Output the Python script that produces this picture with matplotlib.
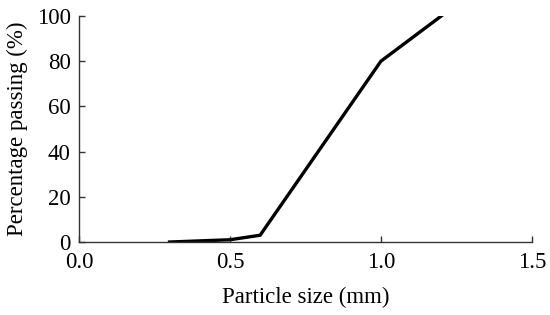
import matplotlib

matplotlib.use("Agg")
import matplotlib.pyplot as plt

plt.rcParams["font.family"] = ["Liberation Serif", "DejaVu Serif"]

# ── 数据 ──
particle_size = [0.3, 0.5, 0.6, 1.0, 1.2]
passing = [0, 1, 3, 80, 100]
x_ticks = [0.0, 0.5, 1.0, 1.5]
y_ticks = [0, 20, 40, 60, 80, 100]

fig = plt.figure(figsize=(5.5, 3.15), dpi=100)
ax = fig.add_axes([0.1436, 0.2317, 0.8234, 0.7175])

ax.plot(particle_size, passing, color="black", linewidth=2.4, solid_joinstyle="miter")

ax.set_xlim(0, 1.5)
ax.set_ylim(0, 100)
ax.set_xticks(x_ticks)
ax.set_xticklabels([f"{t:.1f}" for t in x_ticks])
ax.set_yticks(y_ticks)
ax.spines["top"].set_visible(False)
ax.spines["right"].set_visible(False)
for s in ("left", "bottom"):
    ax.spines[s].set_linewidth(1.0)
    ax.spines[s].set_color("#333333")
ax.tick_params(direction="in", length=4, width=1, labelsize=16.5, colors="#333333", labelcolor="black")
ax.tick_params(axis="x", pad=7)
ax.tick_params(axis="y", pad=6)

ax.set_xlabel("Particle size (mm)", fontsize=16.5, labelpad=10)
ax.set_ylabel("Percentage passing (%)", fontsize=16.5, labelpad=6)

fig.savefig("out.png", dpi=100)
